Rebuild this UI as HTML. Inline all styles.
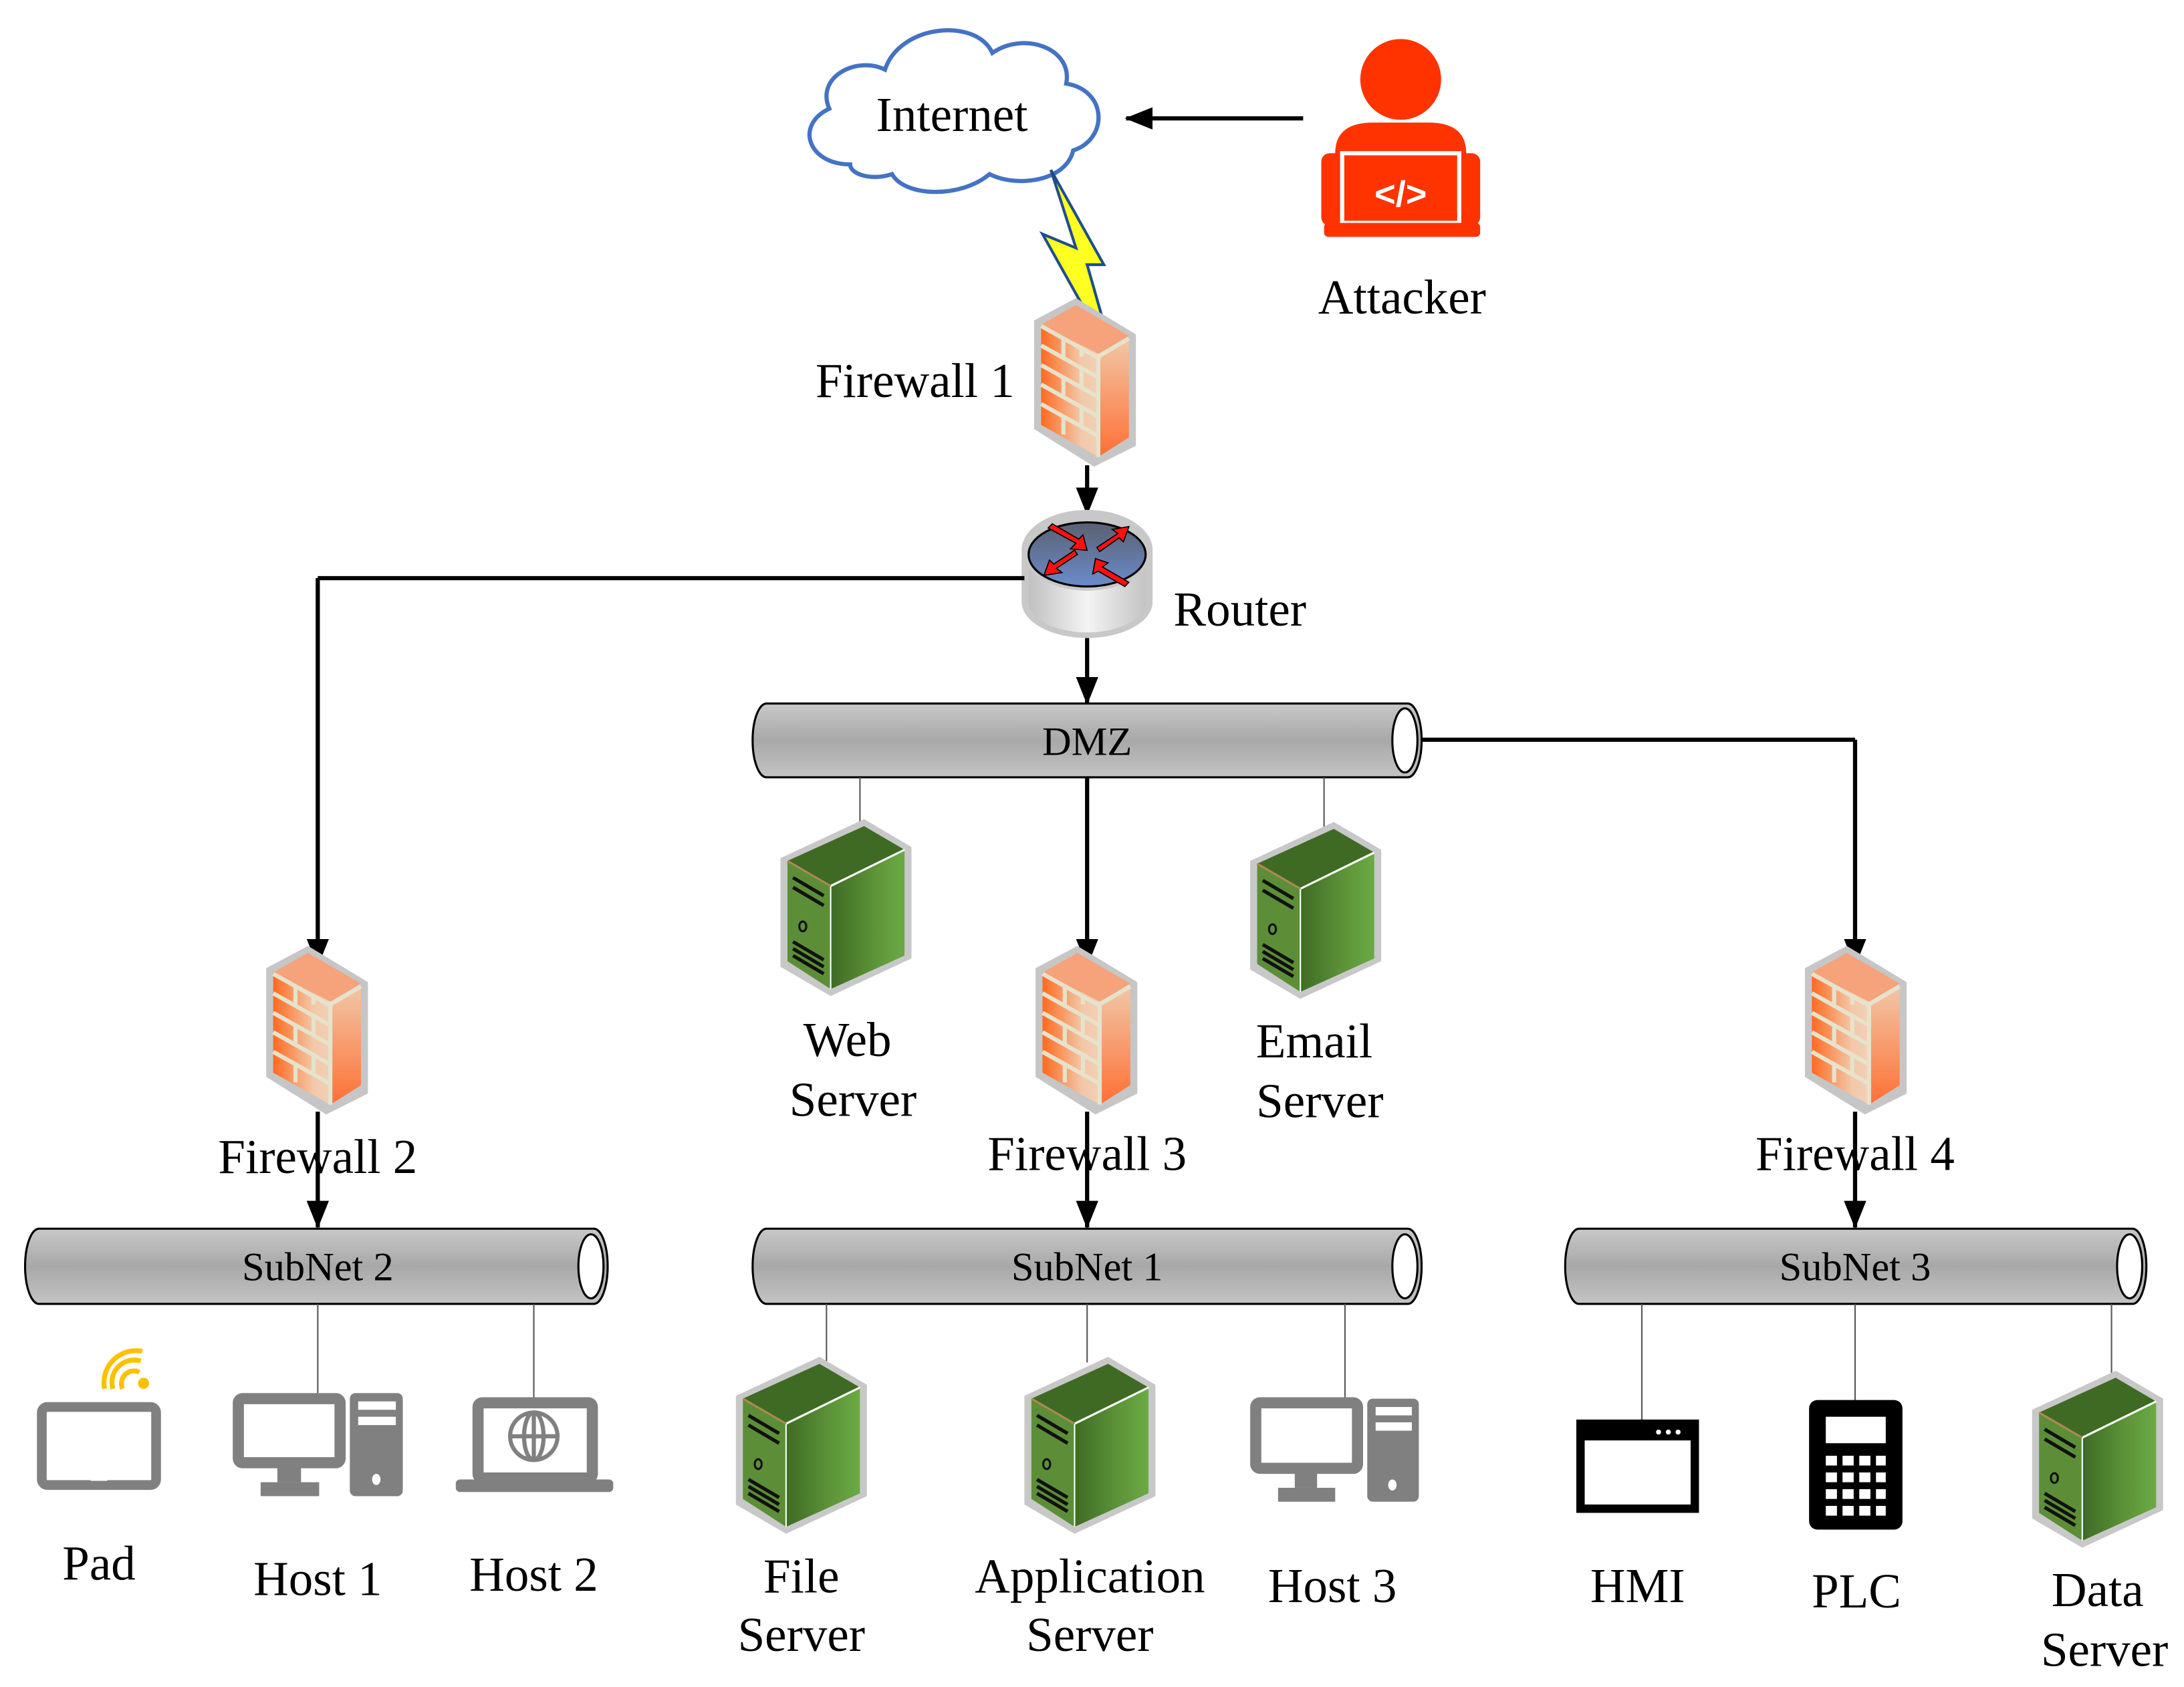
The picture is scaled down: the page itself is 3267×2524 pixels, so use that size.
<!DOCTYPE html>
<html><head><meta charset="utf-8"><style>
html,body{margin:0;padding:0;background:#fff;}
svg{display:block;}
</style></head><body>
<svg width="3267" height="2524" viewBox="0 0 1567 1211" preserveAspectRatio="none" xmlns="http://www.w3.org/2000/svg" font-family="Liberation Serif, serif">
<defs>
<linearGradient id="fwf" x1="0" y1="0" x2="1" y2="0"><stop offset="0" stop-color="#ff6a20"/><stop offset="0.7" stop-color="#f3c8a8"/><stop offset="1" stop-color="#f0d0b8"/></linearGradient>
<linearGradient id="fws" x1="0" y1="0" x2="0" y2="1"><stop offset="0" stop-color="#f0c8a8"/><stop offset="1" stop-color="#ff7035"/></linearGradient>
<linearGradient id="pipe" x1="0" y1="0" x2="0" y2="1"><stop offset="0" stop-color="#c8c8c8"/><stop offset="0.5" stop-color="#a8a8a8"/><stop offset="1" stop-color="#c4c4c4"/></linearGradient>
<linearGradient id="srv" x1="0" y1="0" x2="1" y2="0"><stop offset="0" stop-color="#3f6b25"/><stop offset="0.6" stop-color="#5d9438"/><stop offset="1" stop-color="#6aaa45"/></linearGradient>
<linearGradient id="rtop" x1="0" y1="0" x2="0" y2="1"><stop offset="0" stop-color="#5a6070"/><stop offset="1" stop-color="#6a8ccc"/></linearGradient>
<linearGradient id="rbody" x1="0" y1="0" x2="1" y2="0"><stop offset="0" stop-color="#c0c0c0"/><stop offset="0.5" stop-color="#f4f4f4"/><stop offset="1" stop-color="#c4c4c4"/></linearGradient>
<marker id="ah" markerWidth="20" markerHeight="16" refX="19" refY="8" orient="auto" markerUnits="userSpaceOnUse"><path d="M0,0 L20,8 L0,16 Z" fill="#000"/></marker>
<g id="fw">
<polygon points="0,16 30,0 73,26 73,106 43,121 0,94" fill="#c6c6c6"/>
<polygon points="5,19 30,5 68,27 46,40" fill="#f6a27a"/>
<polygon points="5,19 46,40 46,114 5,91" fill="url(#fwf)"/>
<polygon points="46,40 68,28 68,100 46,114" fill="url(#fws)"/>
<g stroke="#e6e2cc" stroke-width="3" fill="none">
<line x1="5" y1="20" x2="46" y2="43"/><line x1="5" y1="34" x2="46" y2="57"/><line x1="5" y1="48" x2="46" y2="71"/><line x1="5" y1="62" x2="46" y2="85"/><line x1="5" y1="76" x2="46" y2="99"/>
<line x1="46" y1="42" x2="68" y2="29"/><line x1="46" y1="40" x2="46" y2="114"/>
<line x1="21" y1="28" x2="21" y2="42"/><line x1="34" y1="49" x2="34" y2="63"/><line x1="21" y1="56" x2="21" y2="70"/><line x1="34" y1="77" x2="34" y2="91"/><line x1="21" y1="84" x2="21" y2="98"/><line x1="34" y1="35" x2="34" y2="42"/>
</g>
</g>
<g id="srvr">
<polygon points="0,28 60,0 94,20 94,100 36,127 0,106" fill="#c8c8c8"/>
<polygon points="5,30 60,5 89,22 36,48" fill="#3f6a24"/>
<polygon points="5,30 36,48 36,122 5,102" fill="#5c8e38"/>
<polygon points="36,48 89,22 89,98 36,122" fill="url(#srv)"/>
<line x1="36" y1="48" x2="89" y2="22" stroke="#fff" stroke-width="1.5"/>
<line x1="36" y1="48" x2="36" y2="122" stroke="#fff" stroke-width="1"/>
<line x1="5" y1="30" x2="36" y2="48" stroke="#b08850" stroke-width="1.5"/>
<g stroke="#111" stroke-width="2.5">
<line x1="9" y1="42" x2="31" y2="55"/><line x1="9" y1="49" x2="31" y2="62"/><line x1="9" y1="88" x2="31" y2="101"/><line x1="9" y1="93" x2="31" y2="106"/><line x1="9" y1="98" x2="31" y2="111"/>
</g>
<ellipse cx="16" cy="77" rx="2.5" ry="3.5" fill="none" stroke="#111" stroke-width="1.5"/>
</g>
</defs>

<path d="M610,118 C580,118 570,90 595,78 C585,55 615,40 635,50 C645,18 700,12 712,38 C735,22 770,35 765,60 C795,65 795,100 770,108 C765,130 730,135 710,125 C690,142 650,142 640,125 C625,130 610,125 610,118 Z" fill="#fff" stroke="#4472c4" stroke-width="3"/>
<text x="683" y="94" font-size="35" text-anchor="middle">Internet</text>

<circle cx="1005" cy="57" r="29" fill="#ff3300"/>
<path d="M958,162 L958,110 Q958,88 985,88 L1025,88 Q1052,88 1052,110 L1052,162 Z" fill="#ff3300"/>
<rect x="948" y="110" width="20" height="52" rx="6" fill="#ff3300"/>
<rect x="1042" y="110" width="20" height="52" rx="6" fill="#ff3300"/>
<rect x="963" y="110" width="84" height="50" fill="none" stroke="#fff" stroke-width="3"/>
<rect x="950" y="160" width="112" height="10" rx="3" fill="#ff3300"/>
<text x="1005" y="148" font-size="26" fill="#fff" text-anchor="middle" font-family="Liberation Sans, sans-serif" font-weight="bold">&lt;/&gt;</text>
<text x="1006" y="225" font-size="35" text-anchor="middle">Attacker</text>
<line x1="935" y1="85" x2="808" y2="85" stroke="#000" stroke-width="3" marker-end="url(#ah)"/>

<polygon points="754,122 772,178 748,168 786,236 782,232 792,232 780,190 792,190" fill="#ffff22" stroke="#1f4e8c" stroke-width="2"/>

<use href="#fw" x="742" y="214"/>
<text x="728" y="285" font-size="35" text-anchor="end">Firewall 1</text>
<line x1="780" y1="334" x2="780" y2="369" stroke="#000" stroke-width="3" marker-end="url(#ah)"/>

<path d="M733,397 L733,432 A47,26 0 0 0 827,432 L827,397 Z" fill="#c8c8c8"/>
<path d="M738,400 L738,432 A42,22 0 0 0 822,432 L822,400 Z" fill="url(#rbody)"/>
<ellipse cx="780" cy="395" rx="47" ry="29" fill="#c8c8c8"/>
<ellipse cx="780" cy="398" rx="42" ry="23" fill="url(#rtop)" stroke="#000" stroke-width="1.5"/>
<g fill="#ff1010" stroke="#000" stroke-width="0.8">
<polygon points="752,379 772,390 768,394 780,395 777,384 774,387 755,376"/>
<polygon points="787,393 802,383 798,380 810,378 806,389 803,386 789,396"/>
<polygon points="773,398 758,408 762,411 749,413 753,402 756,405 771,395"/>
<polygon points="786,401 784,412 788,410 807,421 810,418 791,407 795,404"/>
</g>
<text x="842" y="449" font-size="35">Router</text>
<line x1="735" y1="415" x2="228" y2="415" stroke="#000" stroke-width="3"/>
<line x1="228" y1="415" x2="228" y2="693" stroke="#000" stroke-width="3" marker-end="url(#ah)"/>
<line x1="780" y1="458" x2="780" y2="505" stroke="#000" stroke-width="3" marker-end="url(#ah)"/>

<g stroke="#000" stroke-width="1.5">
<path d="M550,505 L1010,505 A10,26.5 0 0 1 1010,558 L550,558 A10,26.5 0 0 1 550,505 Z" fill="url(#pipe)"/>
<ellipse cx="1008" cy="531.5" rx="9" ry="23" fill="#fff"/>
<path d="M28,882 L426,882 A10,27 0 0 1 426,936 L28,936 A10,27 0 0 1 28,882 Z" fill="url(#pipe)"/>
<ellipse cx="424" cy="909" rx="9" ry="23" fill="#fff"/>
<path d="M550,882 L1010,882 A10,27 0 0 1 1010,936 L550,936 A10,27 0 0 1 550,882 Z" fill="url(#pipe)"/>
<ellipse cx="1008" cy="909" rx="9" ry="23" fill="#fff"/>
<path d="M1133,882 L1530,882 A10,27 0 0 1 1530,936 L1133,936 A10,27 0 0 1 1133,882 Z" fill="url(#pipe)"/>
<ellipse cx="1528" cy="909" rx="9" ry="23" fill="#fff"/>
</g>
<text x="780" y="542" font-size="29" text-anchor="middle">DMZ</text>
<text x="228" y="919" font-size="29" text-anchor="middle">SubNet 2</text>
<text x="780" y="919" font-size="29" text-anchor="middle">SubNet 1</text>
<text x="1331" y="919" font-size="29" text-anchor="middle">SubNet 3</text>

<line x1="1020" y1="531" x2="1331" y2="531" stroke="#000" stroke-width="3"/>
<line x1="1331" y1="531" x2="1331" y2="693" stroke="#000" stroke-width="3" marker-end="url(#ah)"/>
<line x1="780" y1="558" x2="780" y2="693" stroke="#000" stroke-width="3" marker-end="url(#ah)"/>

<g stroke="#555" stroke-width="1">
<line x1="617" y1="558" x2="617" y2="592"/><line x1="950" y1="558" x2="950" y2="594"/>
<line x1="228" y1="936" x2="228" y2="1000"/><line x1="383" y1="936" x2="383" y2="1003"/>
<line x1="593" y1="936" x2="593" y2="978"/><line x1="780" y1="936" x2="780" y2="978"/><line x1="965" y1="936" x2="965" y2="1004"/>
<line x1="1178" y1="936" x2="1178" y2="1020"/><line x1="1331" y1="936" x2="1331" y2="1006"/><line x1="1515" y1="936" x2="1515" y2="986"/>
</g>

<use href="#srvr" x="560" y="588"/>
<use href="#srvr" x="897" y="590"/>
<text x="608" y="758" font-size="35" text-anchor="middle">Web</text>
<text x="612" y="801" font-size="35" text-anchor="middle">Server</text>
<text x="943" y="759" font-size="35" text-anchor="middle">Email</text>
<text x="947" y="802" font-size="35" text-anchor="middle">Server</text>

<use href="#fw" x="191" y="679"/>
<use href="#fw" x="743" y="679"/>
<use href="#fw" x="1295" y="679"/>
<line x1="228" y1="798" x2="228" y2="881" stroke="#000" stroke-width="3" marker-end="url(#ah)"/>
<line x1="780" y1="798" x2="780" y2="881" stroke="#000" stroke-width="3" marker-end="url(#ah)"/>
<line x1="1331" y1="798" x2="1331" y2="881" stroke="#000" stroke-width="3" marker-end="url(#ah)"/>
<text x="228" y="842" font-size="35" text-anchor="middle">Firewall 2</text>
<text x="780" y="840" font-size="35" text-anchor="middle">Firewall 3</text>
<text x="1331" y="840" font-size="35" text-anchor="middle">Firewall 4</text>

<rect x="30" y="1010" width="82" height="56" rx="4" fill="none" stroke="#808080" stroke-width="7"/>
<rect x="65" y="1061" width="12" height="2" fill="#fff"/>
<g fill="none" stroke="#ffc000" stroke-width="3.5">
<path d="M88,997 A9,9 0 0 1 100,985"/><path d="M81,997 A16,16 0 0 1 101,977"/><path d="M75,997 A23,23 0 0 1 102,970"/>
</g>
<circle cx="103" cy="993" r="4" fill="#ffc000"/>
<text x="71" y="1134" font-size="35" text-anchor="middle">Pad</text>

<rect x="171" y="1004" width="73" height="46" fill="none" stroke="#808080" stroke-width="8" rx="3"/>
<rect x="199" y="1050" width="17" height="14" fill="#808080"/>
<rect x="187" y="1064" width="42" height="10" fill="#808080"/>
<rect x="251" y="1000" width="38" height="74" rx="4" fill="#808080"/>
<rect x="257" y="1006" width="27" height="6" fill="#fff"/><rect x="257" y="1017" width="27" height="6" fill="#fff"/>
<ellipse cx="270" cy="1062" rx="3" ry="4" fill="#fff"/>
<text x="228" y="1145" font-size="35" text-anchor="middle">Host 1</text>

<rect x="343" y="1007" width="82" height="54" fill="none" stroke="#808080" stroke-width="8" rx="3"/>
<rect x="327" y="1062" width="113" height="9" rx="3" fill="#808080"/>
<g fill="none" stroke="#808080" stroke-width="3"><ellipse cx="383" cy="1031" rx="17" ry="17"/><ellipse cx="383" cy="1031" rx="7" ry="17"/><line x1="366" y1="1031" x2="400" y2="1031"/><line x1="383" y1="1014" x2="383" y2="1048"/></g>
<text x="383" y="1142" font-size="35" text-anchor="middle">Host 2</text>

<use href="#srvr" x="528" y="974"/>
<use href="#srvr" x="735" y="974"/>
<text x="575" y="1143" font-size="35" text-anchor="middle">File</text>
<text x="575" y="1185" font-size="35" text-anchor="middle">Server</text>
<text x="782" y="1143" font-size="35" text-anchor="middle">Application</text>
<text x="782" y="1185" font-size="35" text-anchor="middle">Server</text>
<rect x="901" y="1007" width="73" height="47" fill="none" stroke="#808080" stroke-width="8" rx="3"/>
<rect x="929" y="1054" width="16" height="14" fill="#808080"/>
<rect x="917" y="1068" width="41" height="10" fill="#808080"/>
<rect x="981" y="1004" width="37" height="74" rx="4" fill="#808080"/>
<rect x="987" y="1010" width="26" height="6" fill="#fff"/><rect x="987" y="1021" width="26" height="6" fill="#fff"/>
<ellipse cx="999" cy="1066" rx="3" ry="4" fill="#fff"/>
<text x="956" y="1150" font-size="35" text-anchor="middle">Host 3</text>

<rect x="1134" y="1022" width="82" height="61" fill="#fff" stroke="#000" stroke-width="6"/>
<rect x="1134" y="1022" width="82" height="12" fill="#000"/>
<circle cx="1190" cy="1028" r="1.8" fill="#fff"/><circle cx="1197" cy="1028" r="1.8" fill="#fff"/><circle cx="1204" cy="1028" r="1.8" fill="#fff"/>
<text x="1175" y="1150" font-size="35" text-anchor="middle">HMI</text>
<rect x="1298" y="1005" width="67" height="93" rx="6" fill="#000"/>
<rect x="1310" y="1017" width="43" height="19" fill="#fff"/>
<g fill="#fff">
<rect x="1310" y="1045" width="8" height="7"/><rect x="1322" y="1045" width="8" height="7"/><rect x="1334" y="1045" width="8" height="7"/><rect x="1346" y="1045" width="7" height="7"/>
<rect x="1310" y="1057" width="8" height="7"/><rect x="1322" y="1057" width="8" height="7"/><rect x="1334" y="1057" width="8" height="7"/><rect x="1346" y="1057" width="7" height="7"/>
<rect x="1310" y="1069" width="8" height="7"/><rect x="1322" y="1069" width="8" height="7"/><rect x="1334" y="1069" width="8" height="7"/><rect x="1346" y="1069" width="7" height="7"/>
<rect x="1310" y="1081" width="8" height="7"/><rect x="1322" y="1081" width="8" height="7"/><rect x="1334" y="1081" width="8" height="7"/><rect x="1346" y="1081" width="7" height="7"/>
</g>
<text x="1332" y="1154" font-size="35" text-anchor="middle">PLC</text>
<use href="#srvr" x="1458" y="984"/>
<text x="1505" y="1153" font-size="35" text-anchor="middle">Data</text>
<text x="1510" y="1196" font-size="35" text-anchor="middle">Server</text>
</svg>
</body></html>
